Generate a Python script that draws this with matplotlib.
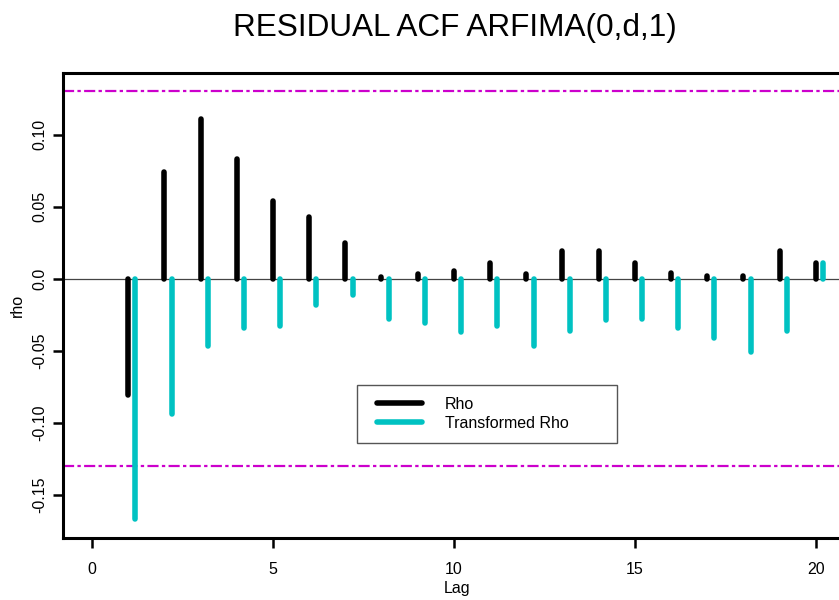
import matplotlib
matplotlib.use("Agg")
import matplotlib.pyplot as plt
from matplotlib.lines import Line2D
from matplotlib.legend_handler import HandlerLine2D
import numpy as np

lags = list(range(1, 21))
rho = [-0.081, 0.074, 0.111, 0.083, 0.054, 0.043, 0.025, 0.001, 0.003, 0.005,
       0.011, 0.003, 0.019, 0.019, 0.011, 0.004, 0.002, 0.002, 0.019, 0.011]
rho_trans = [-0.167, -0.094, -0.047, -0.034, -0.033, -0.018, -0.011, -0.028, -0.031, -0.037,
             -0.033, -0.047, -0.036, -0.029, -0.028, -0.034, -0.041, -0.051, -0.036, 0.011]
bound = 0.13
x_ticks = [0, 5, 10, 15, 20]
y_ticks = [-0.15, -0.10, -0.05, 0.0, 0.05, 0.10]
y_tick_labels = ["-0.15", "-0.10", "-0.05", "0.0", "0.05", "0.10"]
title = "RESIDUAL ACF ARFIMA(0,d,1)"
legend_labels = ["Rho", "Transformed Rho"]

plt.rcParams['font.family'] = ['Liberation Sans', 'DejaVu Sans']
black = "#000000"
cyan = "#00C2C2"
magenta = "#CC00CC"

fig = plt.figure(figsize=(8.39, 6.0), dpi=100)
ax = fig.add_axes([63/839, 62/600, 789/839, 465/600])

lw = 4.0
x1 = np.array(lags, dtype=float)
ax.vlines(x1, 0, rho, colors=black, linewidth=lw, capstyle='round', zorder=3)
ax.vlines(x1 + 0.2, 0, rho_trans, colors=cyan, linewidth=lw, capstyle='round', zorder=3)

ax.axhline(0, color="#444444", linewidth=0.9, zorder=2)
for b in (bound, -bound):
    ax.axhline(b, color=magenta, linewidth=1.6, linestyle=(0, (5, 1.5, 1.5, 1.5)), zorder=2)

ax.set_xlim(-0.8, 21.0)
ax.set_ylim(-0.1799, 0.1427)
ax.set_xticks(x_ticks)
ax.set_xticklabels([str(t) for t in x_ticks])
ax.set_yticks(y_ticks)
ax.set_yticklabels(y_tick_labels, rotation=90, va='center')
ax.tick_params(axis='both', direction='out', length=7, width=1.8, labelsize=11.5)
ax.tick_params(axis='y', pad=4)
ax.tick_params(axis='x', pad=10)
for s in ax.spines.values():
    s.set_linewidth(2.2)
ax.set_xlabel("Lag", fontsize=11.5, labelpad=3)
ax.set_ylabel("rho", fontsize=11.5, labelpad=6)

fig.text(455/839, 1 - 28/600, title, ha='center', va='center', fontsize=22.7)

handles = [Line2D([0], [0], color=black, linewidth=lw, solid_capstyle='round'),
           Line2D([0], [0], color=cyan, linewidth=lw, solid_capstyle='round')]
x0 = (357 - 63) / 789
w = (617 - 357) / 789
y0 = (538 - 443) / 465
h = (443 - 385) / 465
leg = ax.legend(handles, legend_labels, loc='upper left', mode='expand',
                bbox_to_anchor=(x0, y0, w, h),
                handler_map={Line2D: HandlerLine2D(xpad=0.5)},
                fontsize=11.5, handlelength=3.3, handletextpad=1.45,
                labelspacing=0.24, borderpad=0.75, borderaxespad=0,
                fancybox=False, framealpha=1, edgecolor="#555555")
leg.get_frame().set_linewidth(1.0)

fig.savefig("out.png", dpi=100)
